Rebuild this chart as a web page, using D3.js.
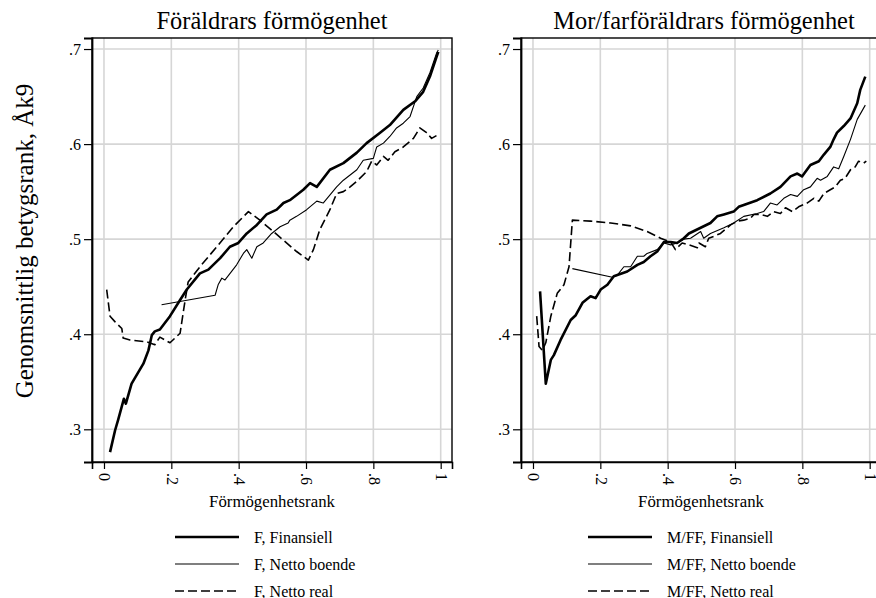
<!DOCTYPE html>
<meta charset="utf-8">
<script src="https://d3js.org/d3.v7.min.js"></script>
<style>
  body { margin: 0; background: #fff; }
  svg text { font-family: "Liberation Serif", "Times New Roman", serif; fill: #000; }
</style>
<body>
<div id="vis"></div>
<script>
// tick values
var xTicks = [0, 0.2, 0.4, 0.6, 0.8, 1];
var xTickLabels = ["0", ".2", ".4", ".6", ".8", "1"];
var yTicks = [0.3, 0.4, 0.5, 0.6, 0.7];
var yTickLabels = [".3", ".4", ".5", ".6", ".7"];

// Föräldrars förmögenhet
var fFinansiell = [[0.018,0.276],[0.033,0.299],[0.042,0.310],[0.059,0.332],[0.065,0.327],[0.082,0.348],
  [0.117,0.369],[0.132,0.383],[0.142,0.399],[0.151,0.403],[0.166,0.405],[0.196,0.419],[0.226,0.436],
  [0.246,0.447],[0.285,0.464],[0.310,0.468],[0.345,0.480],[0.374,0.492],[0.399,0.496],[0.424,0.506],
  [0.454,0.515],[0.483,0.526],[0.513,0.531],[0.533,0.538],[0.552,0.541],[0.592,0.552],[0.612,0.559],
  [0.632,0.555],[0.671,0.573],[0.711,0.580],[0.751,0.591],[0.780,0.601],[0.820,0.612],[0.849,0.620],
  [0.889,0.636],[0.924,0.645],[0.948,0.655],[0.968,0.671],[0.988,0.692],[0.993,0.697]];
var fBoende = [[0.171,0.431],[0.330,0.441],[0.339,0.452],[0.350,0.459],[0.359,0.457],[0.394,0.473],
  [0.414,0.485],[0.424,0.489],[0.439,0.480],[0.454,0.492],[0.473,0.496],[0.498,0.506],[0.523,0.513],
  [0.547,0.517],[0.552,0.520],[0.572,0.524],[0.602,0.531],[0.632,0.540],[0.651,0.538],[0.691,0.555],
  [0.711,0.562],[0.751,0.573],[0.770,0.583],[0.800,0.585],[0.810,0.597],[0.830,0.601],[0.849,0.608],
  [0.869,0.617],[0.889,0.622],[0.909,0.629],[0.929,0.650],[0.948,0.659],[0.968,0.675],[0.988,0.696],
  [0.993,0.699]];
var fReal = [[0.008,0.447],[0.018,0.419],[0.033,0.413],[0.053,0.406],[0.057,0.396],[0.077,0.394],
  [0.127,0.392],[0.151,0.389],[0.166,0.397],[0.196,0.391],[0.226,0.401],[0.241,0.436],[0.250,0.455],
  [0.285,0.471],[0.335,0.492],[0.384,0.513],[0.429,0.529],[0.463,0.520],[0.513,0.505],[0.572,0.487],
  [0.607,0.478],[0.622,0.489],[0.641,0.510],[0.671,0.531],[0.691,0.548],[0.711,0.550],[0.731,0.555],
  [0.751,0.561],[0.780,0.571],[0.795,0.582],[0.810,0.578],[0.830,0.587],[0.844,0.583],[0.864,0.592],
  [0.889,0.597],[0.919,0.606],[0.938,0.617],[0.958,0.612],[0.973,0.606],[0.993,0.610]];

// Mor/farföräldrars förmögenhet
var mFinansiell = [[0.021,0.445],[0.038,0.348],[0.053,0.373],[0.062,0.378],[0.082,0.394],[0.112,0.415],
  [0.127,0.420],[0.147,0.433],[0.171,0.440],[0.186,0.438],[0.201,0.447],[0.221,0.452],[0.240,0.461],
  [0.280,0.466],[0.310,0.473],[0.329,0.476],[0.349,0.482],[0.369,0.487],[0.389,0.497],[0.409,0.497],
  [0.428,0.496],[0.448,0.501],[0.463,0.506],[0.498,0.512],[0.527,0.517],[0.547,0.524],[0.567,0.526],
  [0.596,0.529],[0.611,0.534],[0.626,0.536],[0.666,0.541],[0.705,0.548],[0.735,0.555],[0.765,0.566],
  [0.785,0.569],[0.799,0.566],[0.824,0.578],[0.849,0.582],[0.864,0.589],[0.883,0.597],[0.893,0.605],
  [0.903,0.612],[0.923,0.619],[0.943,0.627],[0.963,0.643],[0.972,0.657],[0.987,0.671]];
var mBoende = [[0.117,0.469],[0.236,0.460],[0.250,0.462],[0.270,0.471],[0.290,0.471],[0.310,0.482],
  [0.329,0.482],[0.339,0.485],[0.369,0.489],[0.389,0.496],[0.409,0.494],[0.428,0.496],[0.448,0.500],
  [0.468,0.501],[0.498,0.508],[0.507,0.501],[0.527,0.506],[0.567,0.512],[0.596,0.517],[0.626,0.524],
  [0.666,0.527],[0.685,0.529],[0.705,0.538],[0.725,0.536],[0.745,0.543],[0.765,0.547],[0.785,0.545],
  [0.804,0.552],[0.824,0.555],[0.844,0.564],[0.854,0.562],[0.874,0.566],[0.893,0.576],[0.908,0.574],
  [0.923,0.587],[0.943,0.605],[0.963,0.626],[0.987,0.641]];
var mReal = [[0.011,0.419],[0.018,0.387],[0.028,0.383],[0.038,0.391],[0.053,0.419],[0.072,0.443],
  [0.092,0.452],[0.107,0.471],[0.117,0.520],[0.171,0.519],[0.231,0.517],[0.290,0.514],[0.339,0.508],
  [0.379,0.501],[0.409,0.497],[0.423,0.489],[0.443,0.496],[0.463,0.494],[0.488,0.491],[0.493,0.496],
  [0.512,0.492],[0.522,0.501],[0.537,0.503],[0.557,0.506],[0.587,0.515],[0.607,0.519],[0.626,0.520],
  [0.646,0.522],[0.656,0.526],[0.676,0.526],[0.696,0.524],[0.715,0.529],[0.735,0.527],[0.750,0.533],
  [0.770,0.529],[0.789,0.534],[0.814,0.538],[0.834,0.543],[0.849,0.540],[0.864,0.548],[0.883,0.552],
  [0.898,0.555],[0.913,0.562],[0.927,0.564],[0.943,0.573],[0.957,0.576],[0.967,0.582],[0.982,0.580],
  [0.990,0.582]];

var panels = [
  {title: "Föräldrars förmögenhet", left: 92, titleShift: 0, prefix: "F", series: [fFinansiell, fBoende, fReal], legendX: 175},
  {title: "Mor/farföräldrars förmögenhet", left: 521, titleShift: 3, prefix: "M/FF", series: [mFinansiell, mBoende, mReal], legendX: 588}
];
var seriesNames = ["Finansiell", "Netto boende", "Netto real"];
var styles = [
  {w: 2.6, dash: null},
  {w: 1.1, dash: null},
  {w: 1.6, dash: "9,4"}
];

var W = 876, H = 598;
var plotW = 360, plotTop = 38, plotBottom = 462;
var serif = "'Liberation Serif', 'Times New Roman', serif";

var svg = d3.select("#vis").append("svg")
  .attr("width", W)
  .attr("height", H);

var y = d3.scaleLinear()
  .domain([0.2656, 0.7116])
  .range([plotBottom, plotTop]);

// y axis title
svg.append("text")
  .attr("transform", "translate(33,241) rotate(-90)")
  .attr("text-anchor", "middle")
  .style("font-family", serif)
  .style("font-size", "25px")
  .text("Genomsnittlig betygsrank, Åk9");

panels.forEach(function(p) {
  var x = d3.scaleLinear()
    .domain([-0.0356, 1.0336])
    .range([p.left, p.left + plotW]);
  var g = svg.append("g");

  // gridlines
  g.selectAll(".gx").data(xTicks).enter().append("line")
    .attr("x1", function(d){ return x(d) }).attr("x2", function(d){ return x(d) })
    .attr("y1", plotTop).attr("y2", plotBottom)
    .attr("stroke", "#d6d6d6").attr("stroke-width", 1.6);
  g.selectAll(".gy").data(yTicks).enter().append("line")
    .attr("x1", p.left).attr("x2", p.left + plotW)
    .attr("y1", function(d){ return y(d) }).attr("y2", function(d){ return y(d) })
    .attr("stroke", "#d6d6d6").attr("stroke-width", 1.6);

  // lines
  var line = d3.line()
    .x(function(d){ return x(d[0]) })
    .y(function(d){ return y(d[1]) });
  p.series.forEach(function(s, i) {
    g.append("path")
      .datum(s)
      .attr("d", line)
      .attr("fill", "none")
      .attr("stroke", "#000")
      .attr("stroke-width", styles[i].w)
      .attr("stroke-linejoin", "round")
      .attr("stroke-dasharray", styles[i].dash);
  });

  // frame
  g.append("rect")
    .attr("x", p.left).attr("y", plotTop)
    .attr("width", plotW).attr("height", plotBottom - plotTop)
    .attr("fill", "none").attr("stroke", "#000").attr("stroke-width", 1.4);

  // x axis
  var xAxis = g.append("g")
    .attr("transform", "translate(0," + plotBottom + ")")
    .call(d3.axisBottom(x).tickValues(xTicks).tickSize(7).tickFormat(function(d, i){ return xTickLabels[i] }));
  xAxis.select(".domain").attr("stroke-width", 1.6);
  xAxis.selectAll(".tick line").attr("stroke-width", 1.2);
  xAxis.selectAll(".tick text")
    .attr("transform", "rotate(90)")
    .attr("x", 11).attr("y", 0)
    .attr("dy", "0.32em")
    .attr("text-anchor", "start")
    .style("font-size", "16px")
    .style("font-family", serif);

  // y axis
  var yAxis = g.append("g")
    .attr("transform", "translate(" + p.left + ",0)")
    .call(d3.axisLeft(y).tickValues(yTicks).tickSize(8).tickPadding(3).tickFormat(function(d, i){ return yTickLabels[i] }));
  yAxis.select(".domain").attr("stroke-width", 1.8);
  yAxis.selectAll(".tick line").attr("stroke-width", 1.2);
  yAxis.selectAll(".tick text")
    .style("font-size", "16px")
    .style("font-family", serif);

  // titles
  g.append("text")
    .attr("x", p.left + plotW / 2 + p.titleShift).attr("y", 29)
    .attr("text-anchor", "middle")
    .style("font-family", serif)
    .style("font-size", "24.4px")
    .text(p.title);
  g.append("text")
    .attr("x", p.left + plotW / 2).attr("y", 507)
    .attr("text-anchor", "middle")
    .style("font-family", serif)
    .style("font-size", "16.8px")
    .text("Förmögenhetsrank");

  // legend
  seriesNames.forEach(function(n, i) {
    var ly = 537 + i * 27;
    g.append("line")
      .attr("x1", p.legendX).attr("x2", p.legendX + 64)
      .attr("y1", ly).attr("y2", ly)
      .attr("stroke", "#000")
      .attr("stroke-width", styles[i].w)
      .attr("stroke-dasharray", styles[i].dash);
    g.append("text")
      .attr("x", p.legendX + 79).attr("y", ly + 5.5)
      .style("font-family", serif)
      .style("font-size", "16px")
      .text(p.prefix + ", " + n);
  });
});
</script>
</body>
